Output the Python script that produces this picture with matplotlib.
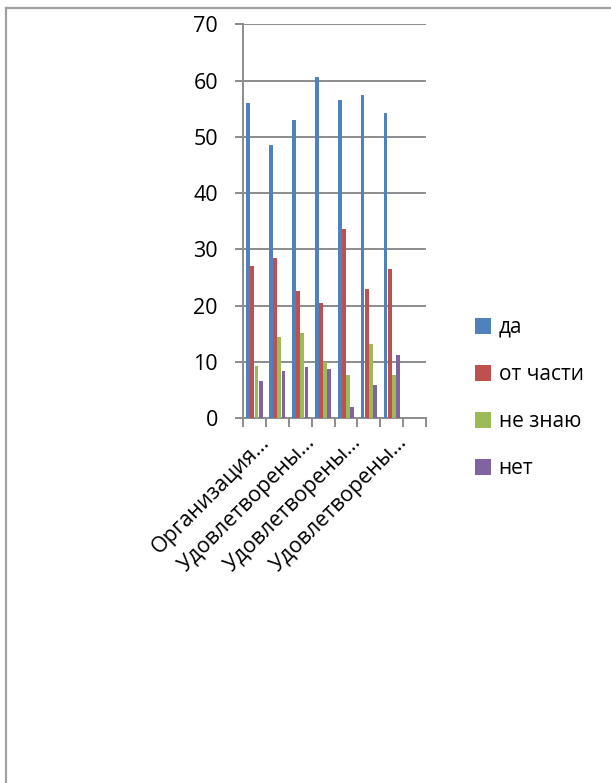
import numpy as np
import matplotlib
matplotlib.use("Agg")
import matplotlib.pyplot as plt
from matplotlib.lines import Line2D
from matplotlib.transforms import ScaledTranslation

plt.rcParams['font.family'] = ['Open Sans', 'DejaVu Sans']

categories = [
    "Организация…",
    "Удовлетворены…",
    "Удовлетворены…",
    "Удовлетворены…",
    "Удовлетворены…",
    "Удовлетворены…",
    "Удовлетворены…",
    "",
]
series_names = ["да", "от части", "не знаю", "нет"]
da = [56.0, 48.5, 53.0, 60.6, 56.5, 57.5, 54.3]
ot_chasti = [27.0, 28.5, 22.5, 20.4, 33.6, 22.9, 26.5]
ne_znayu = [9.3, 14.4, 15.2, 10.0, 7.6, 13.2, 7.6]
net = [6.5, 8.3, 9.0, 8.7, 1.9, 5.8, 11.2]
colors = ["#4F81BD", "#C0504D", "#9BBB59", "#8064A2"]

grid_color = "#8C8C8C"

fig = plt.figure(figsize=(6.11, 7.83), dpi=100)
ax = fig.add_axes([243 / 611, 1 - 418 / 783, 183 / 611, (418 - 24.3) / 783])

# Excel-like clustered columns, gap width 150%
n_series = 4
bar_w = 1 / (n_series + 1.5)
x = np.arange(len(da))
for i, (vals, name) in enumerate(zip([da, ot_chasti, ne_znayu, net], series_names)):
    offs = -0.5 + 0.75 * bar_w + (i + 0.5) * bar_w
    ax.bar(x + offs, vals, width=bar_w * 0.92, color=colors[i], label=name,
           linewidth=0, zorder=3)

ax.set_xlim(-0.5, len(categories) - 0.5)
ax.set_ylim(0, 70)
ax.set_yticks(np.arange(0, 71, 10))
ax.yaxis.grid(True, color=grid_color, linewidth=1.4, zorder=0)

for s in ["top", "right"]:
    ax.spines[s].set_visible(False)
for s in ["left", "bottom"]:
    ax.spines[s].set_color(grid_color)
    ax.spines[s].set_linewidth(1.4)

ax.tick_params(axis="y", length=6, width=1.4, color=grid_color, pad=12,
               labelsize=15.5)

# category boundary ticks
ax.set_xticks(np.arange(len(categories) + 1) - 0.5)
ax.set_xticklabels([])
ax.tick_params(axis="x", which="major", length=6.5, width=1.4, color=grid_color)

# labels on every other category
ax.set_xticks(np.arange(0, len(categories), 2), minor=True)
ax.set_xticklabels(categories[::2], minor=True, rotation=45, ha="right",
                   va="baseline", rotation_mode="anchor", fontsize=15.5)
ax.tick_params(axis="x", which="minor", length=0, pad=18)
offset = ScaledTranslation(0.16, 0, fig.dpi_scale_trans)
for lab in ax.get_xticklabels(minor=True):
    lab.set_transform(lab.get_transform() + offset)

leg = ax.legend(loc="center left", bbox_to_anchor=(456 / 611, 1 - 398 / 783),
                bbox_transform=fig.transFigure, frameon=False, fontsize=15,
                handlelength=0.8, handleheight=0.8, handletextpad=0.35,
                labelspacing=1.25)

# page border (top and left)
fig.add_artist(Line2D([6 / 611, 1], [1 - 8 / 783, 1 - 8 / 783],
                      transform=fig.transFigure, color="#A0A0A0", linewidth=1.6))
fig.add_artist(Line2D([6 / 611, 6 / 611], [0, 1 - 8 / 783],
                      transform=fig.transFigure, color="#A0A0A0", linewidth=1.6))

fig.savefig("out.png", dpi=100)
